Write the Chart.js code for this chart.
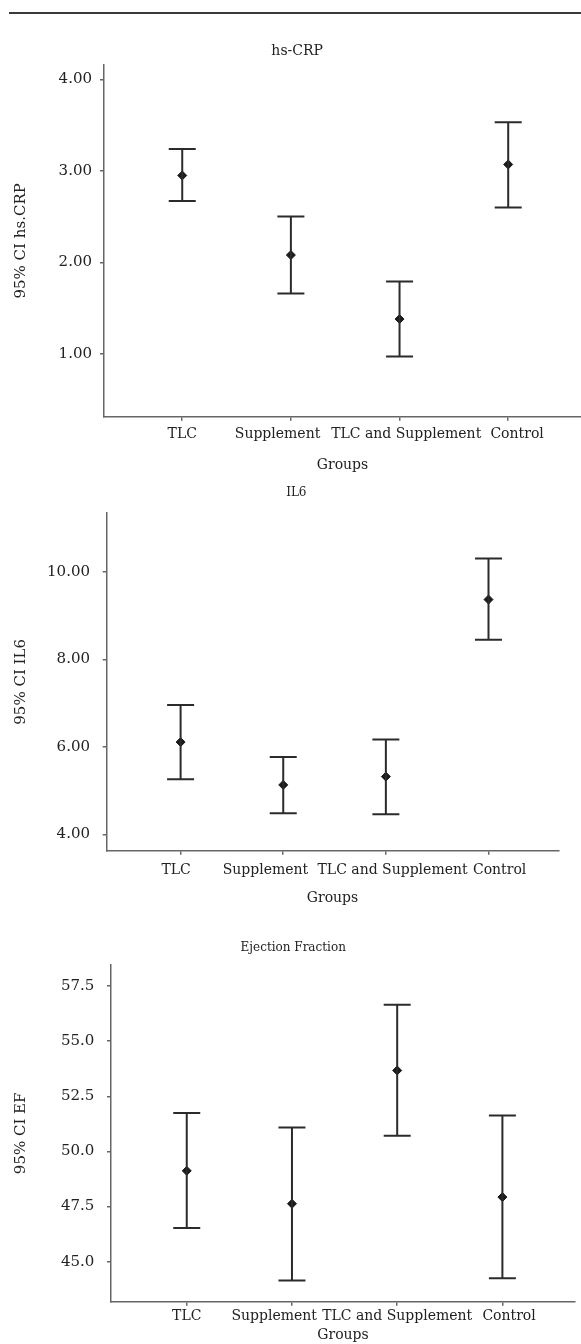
<!DOCTYPE html>
<html><head><meta charset="utf-8">
<script src="https://cdn.jsdelivr.net/npm/chart.js@4.4.1/dist/chart.umd.min.js"></script>
<style>
body{margin:0;background:#fff;width:581px;height:1344px;position:relative;overflow:hidden}
canvas{position:absolute;left:0}
#rule{position:absolute;left:9px;top:12px;width:572px;height:1.5px;background:#3a3a3a}
</style></head><body>
<div id="rule"></div>
<canvas id="c1" width="581" height="460" style="top:20px"></canvas>
<canvas id="c2" width="581" height="440" style="top:480px"></canvas>
<canvas id="c3" width="581" height="424" style="top:920px"></canvas>
<script>
const categories = ['TLC', 'Supplement', 'TLC and Supplement', 'Control'];

const crpMean = [2.95, 2.08, 1.38, 3.07];
const crpLow  = [2.67, 1.66, 0.97, 2.60];
const crpHigh = [3.24, 2.50, 1.79, 3.53];
const crpTicks = [1, 2, 3, 4];

const il6Mean = [6.11, 5.13, 5.32, 9.37];
const il6Low  = [5.26, 4.48, 4.46, 8.45];
const il6High = [6.96, 5.77, 6.17, 10.31];
const il6Ticks = [4, 6, 8, 10];

const efMean = [49.12, 47.63, 53.67, 47.93];
const efLow  = [46.53, 44.15, 50.71, 44.25];
const efHigh = [51.74, 51.09, 56.65, 51.63];
const efTicks = [45, 47.5, 50, 52.5, 55, 57.5];

const FONT = "'DejaVu Serif', serif";
const INK = '#2b2b2b';
const AXIS = '#666';
const NB = '\u00A0';

// pad a label with non-breaking spaces: n>0 -> leading (shift right), n<0 -> trailing (shift left)
function nudge(text, n) {
  return n > 0 ? NB.repeat(n) + text : text + NB.repeat(-n);
}

function makeChart(id, c) {
  const datasets = categories.map((cat, i) => ({
    label: cat,
    data: [{x: i, y: c.low[i]}, {x: i, y: c.high[i]}],
    showLine: true,
    borderColor: INK,
    borderWidth: 2,
    pointStyle: 'line',
    pointRadius: 13.5,
    pointHoverRadius: 13.5,
    pointBorderWidth: 2,
    pointBorderColor: INK
  }));
  datasets.push({
    label: 'mean',
    data: categories.map((cat, i) => ({x: i, y: c.mean[i]})),
    showLine: false,
    pointStyle: 'rectRot',
    pointRadius: 4.5,
    pointHoverRadius: 4.5,
    backgroundColor: '#1a1a1a',
    borderColor: '#1a1a1a',
    borderWidth: 1
  });
  return new Chart(document.getElementById(id), {
    type: 'scatter',
    data: {datasets},
    options: {
      responsive: false,
      animation: false,
      devicePixelRatio: 1,
      layout: {autoPadding: false, padding: {left: 0, right: c.padRight, top: 0, bottom: 0}},
      plugins: {
        legend: {display: false},
        tooltip: {enabled: false},
        title: {
          display: true, text: nudge(c.title, c.titleNudge), color: '#222',
          font: {family: FONT, size: c.titleSize, weight: 'normal', lineHeight: 1.2},
          padding: {top: c.titlePadTop, bottom: c.titlePadBottom}
        }
      },
      scales: {
        x: {
          type: 'linear', min: c.xMin, max: c.xMax,
          afterBuildTicks: s => { s.ticks = categories.map((cat, i) => ({value: i})); },
          afterFit: s => { s.height = c.xHeight; },
          ticks: {
            callback: v => categories[v] !== undefined ? nudge(categories[v], c.labelNudge[v]) : '',
            autoSkip: false, maxRotation: 0, minRotation: 0,
            padding: c.xLabelPad, color: '#222',
            font: {family: FONT, size: 14, lineHeight: 1.2}
          },
          grid: {drawOnChartArea: false, drawTicks: true, tickLength: 4, color: AXIS, lineWidth: 1.5},
          border: {display: true, color: AXIS, width: 1.5},
          title: {
            display: true, text: 'Groups', color: '#222',
            font: {family: FONT, size: 14, lineHeight: 1.2},
            padding: {top: 0, bottom: c.xTitlePadBottom}
          }
        },
        y: {
          type: 'linear', min: c.yMin, max: c.yMax,
          afterBuildTicks: s => { s.ticks = c.yTicks.map(v => ({value: v})); },
          afterFit: s => { s.width = c.yWidth; },
          ticks: {
            callback: v => Number(v).toFixed(c.decimals),
            padding: c.yLabelPad, color: '#222',
            font: {family: FONT, size: 15, lineHeight: 1.2}
          },
          grid: {drawOnChartArea: false, drawTicks: true, tickLength: 4, color: AXIS, lineWidth: 1.5},
          border: {display: true, color: AXIS, width: 1.5},
          title: {
            display: true, text: c.yTitle, color: '#222',
            font: {family: FONT, size: 15, lineHeight: 1.2},
            padding: {top: 12.5, bottom: 0}
          }
        }
      }
    }
  });
}

makeChart('c1', {
  title: 'hs-CRP', titleNudge: 3, titleSize: 14, titlePadTop: 22.6, titlePadBottom: 5.6,
  yTitle: '95% CI hs.CRP', mean: crpMean, low: crpLow, high: crpHigh,
  yTicks: crpTicks, yMin: 0.313, yMax: 4.157, decimals: 2,
  xMin: -0.72, xMax: 3.67, yWidth: 104, xHeight: 63.3, padRight: 0,
  xLabelPad: 5, xTitlePadBottom: 6.6, yLabelPad: 8,
  labelNudge: [0, -6, 3, 4]
});
makeChart('c2', {
  title: 'IL6', titleNudge: 9, titleSize: 12, titlePadTop: 5.8, titlePadBottom: 12.8,
  yTitle: '95% CI IL6', mean: il6Mean, low: il6Low, high: il6High,
  yTicks: il6Ticks, yMin: 3.625, yMax: 11.35, decimals: 2,
  xMin: -0.72, xMax: 3.68, yWidth: 106.7, xHeight: 69.3, padRight: 22.7,
  xLabelPad: 7, xTitlePadBottom: 13.3, yLabelPad: 12.7,
  labelNudge: [-2, -8, 3, 5]
});
makeChart('c3', {
  title: 'Ejection Fraction', titleNudge: 3, titleSize: 12, titlePadTop: 20.8, titlePadBottom: 9.8,
  yTitle: '95% CI EF', mean: efMean, low: efLow, high: efHigh,
  yTicks: efTicks, yMin: 43.19, yMax: 58.45, decimals: 1,
  xMin: -0.72, xMax: 3.69, yWidth: 111, xHeight: 42.3, padRight: 6,
  xLabelPad: 2.6, xTitlePadBottom: 0.6, yLabelPad: 12.7,
  labelNudge: [0, -8, 0, 3]
});
</script>
</body></html>
